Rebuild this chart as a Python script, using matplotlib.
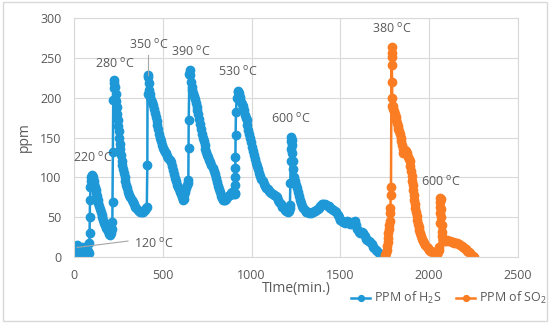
import matplotlib
matplotlib.use("Agg")
import matplotlib.pyplot as plt
from matplotlib.patches import Rectangle

plt.rcParams['font.family'] = ['Open Sans', 'DejaVu Sans']

# H2S readings (time in min, ppm)
h2s_time = [
    0, 4, 8, 12, 16, 20, 24, 28, 32, 36, 40, 44, 48, 52, 56, 60, 64, 68, 72, 76, 80, 84,
    87, 88, 89, 90, 93, 95, 98, 100, 103,
    106, 110, 114, 118, 122, 126, 130, 134, 138, 142, 146, 150, 155, 160, 165, 170, 175,
    180, 185, 190, 195, 200, 205, 210, 214,
    216, 217, 219, 221, 223, 225, 228,
    231, 234, 237, 240, 243, 246, 249, 252, 255, 258, 261, 264, 268, 272, 276, 280, 285,
    290, 295, 300, 306, 312, 318, 324, 330, 337, 344, 351, 358, 366, 374, 382, 390, 398,
    405, 410,
    413, 414, 416, 418, 420, 422,
    426, 430, 435, 440, 445, 450, 455, 460, 465, 470, 475, 480, 485, 490, 496, 502, 508,
    514, 520, 526, 532, 538, 544, 550, 556, 562, 568, 574, 580, 586, 592, 598, 604, 609,
    614, 618, 622, 627, 632, 637, 641,
    644, 645, 646, 650, 653, 656,
    659, 662, 666, 670, 675, 680, 685, 690, 695, 700, 705, 710, 715, 720, 725, 730, 735,
    740, 745, 750, 756, 762, 768, 774, 780, 786, 792, 798, 804, 810, 816, 822, 828, 834,
    840, 846, 852, 858, 864, 870, 876, 882, 888, 894, 900, 905,
    907, 907, 908, 908, 909, 910, 912, 916, 921, 925, 928,
    932, 937, 942, 947, 952, 957, 962, 967, 972, 977, 982, 987, 992, 997, 1002, 1007,
    1012, 1018, 1024, 1030, 1036, 1042, 1048, 1055, 1062, 1069, 1076, 1083, 1090, 1097,
    1104, 1112, 1120, 1128, 1136, 1143, 1150, 1157, 1164, 1172, 1180, 1188, 1196, 1204,
    1210, 1214,
    1216, 1218, 1220, 1221, 1222, 1223, 1225, 1227,
    1229, 1232, 1235, 1239, 1243, 1248, 1254, 1260, 1266, 1272, 1278, 1285, 1292, 1300,
    1308, 1316, 1324, 1332, 1340, 1348, 1356, 1364, 1372, 1380, 1388, 1396, 1404, 1412,
    1420, 1428, 1436, 1444, 1452, 1460, 1468, 1476, 1484, 1492, 1500, 1508, 1516, 1524,
    1532, 1540, 1548, 1556, 1564, 1572, 1580, 1588, 1596, 1604, 1612, 1620, 1628, 1636,
    1644, 1652, 1660, 1668, 1676, 1684, 1692, 1700, 1708, 1716, 1724, 1732, 1740, 1748,
]
h2s_ppm = [
    2, 6, 10, 14, 15, 12, 9, 6, 8, 11, 13, 11, 8, 10, 12, 9, 6, 3, 1, 4, 8, 5,
    17, 30, 50, 71, 88, 96, 101, 103, 102,
    100, 96, 92, 88, 84, 80, 76, 72, 68, 64, 60, 57, 53, 50, 46, 43, 40,
    37, 35, 33, 31, 29, 28, 30, 35,
    44, 69, 132, 197, 212, 218, 222,
    214, 205, 196, 188, 180, 172, 165, 158, 150, 142, 135, 128, 121, 115, 110, 105, 100,
    95, 90, 86, 82, 78, 75, 72, 69, 66, 63, 61, 59, 58, 57, 56, 57, 59,
    61, 63,
    115, 205, 228, 226, 218, 210,
    205, 201, 197, 194, 191, 186, 181, 176, 171, 166, 161, 155, 150, 145, 141, 137, 134,
    132, 130, 127, 124, 122, 119, 114, 109, 104, 99, 95, 91, 88, 85, 82, 79, 75,
    71, 73, 78, 82, 86, 90, 93,
    97, 137, 172, 230, 235, 228,
    220, 214, 210, 206, 202, 198, 193, 188, 184, 179, 173, 167, 161, 155, 150, 145, 140,
    136, 132, 128, 125, 122, 119, 116, 112, 108, 104, 99, 94, 89, 85, 81, 77, 74,
    72, 71, 71, 73, 75, 77, 78, 80, 81, 80, 79, 79,
    80, 90, 101, 112, 126, 153, 182, 200, 207, 209, 206,
    201, 197, 194, 192, 189, 184, 178, 175, 172, 166, 160, 155, 150, 144, 138, 133,
    128, 123, 118, 114, 110, 106, 102, 98, 95, 92, 89, 87, 85, 83,
    82, 80, 79, 78, 77, 75, 72, 69, 66, 63, 61, 59, 58, 57,
    58, 62,
    65, 93, 120, 135, 145, 151, 147, 140,
    130, 120, 110, 101, 95, 90, 86, 82, 77, 72, 68, 64, 61, 59,
    57, 56, 55, 55, 56, 57, 58, 59, 60, 62, 64, 66, 67, 66,
    65, 64, 64, 62, 60, 59, 58, 56, 53, 50, 47, 45, 44, 43,
    44, 45, 44, 42, 41, 44, 45, 40, 35, 31, 30, 32, 30, 26,
    23, 21, 20, 19, 16, 13, 11, 9, 7, 5, 4, 2, 1, 0,
]

# SO2 readings (time in min, ppm)
so2_time = [
    1751, 1754, 1757, 1760, 1763, 1766, 1768, 1770, 1772, 1775, 1778, 1780, 1782, 1783, 1785,
    1788, 1789, 1789, 1790, 1791, 1792, 1793,
    1796, 1799, 1803, 1807, 1811, 1815, 1819, 1823, 1827, 1831, 1835, 1839, 1843, 1847,
    1851, 1855, 1860, 1865, 1870, 1875, 1880, 1885, 1890, 1894, 1898, 1901, 1904, 1907,
    1910, 1913, 1916, 1919, 1922, 1925, 1929, 1933, 1937, 1941, 1945, 1950, 1955, 1960,
    1966, 1972, 1978, 1985, 1992, 1999, 2006, 2013, 2020, 2027, 2034, 2040, 2046, 2051,
    2055, 2058,
    2060, 2061, 2061, 2062, 2063, 2064, 2066, 2068, 2070, 2072, 2074, 2077,
    2082, 2088, 2095, 2102, 2110, 2118, 2126, 2134, 2142, 2150, 2158, 2166, 2174, 2182,
    2190, 2198, 2206, 2214, 2222, 2230, 2238, 2246, 2252,
]
so2_ppm = [
    0, 2, 5, 9, 14, 19, 24, 30, 35, 40, 45, 55, 62, 78, 88,
    264, 256, 251, 241, 220, 200, 189,
    190, 186, 183, 180, 176, 172, 168, 164, 161, 158, 155, 150, 145, 140,
    135, 131, 133, 134, 133, 130, 126, 123, 120, 114, 108, 102, 96, 90,
    84, 78, 72, 66, 61, 56, 51, 46, 42, 38, 34, 30, 26, 23,
    20, 17, 15, 13, 11, 9, 8, 7, 6, 5, 4, 3, 4, 6,
    9, 12,
    43, 55, 63, 69, 74, 73, 60, 50, 40, 32, 26, 22,
    21, 20, 20, 21, 20, 20, 19, 19, 18, 18, 17, 16, 15, 14,
    13, 11, 10, 8, 6, 5, 3, 1, 0,
]

# temperature labels: text, time, ppm
temp_labels = ["220", "280", "390", "530", "600", "380", "600"]
temp_x = [104, 231, 656, 923, 1223, 1790, 2064]
temp_y = [125, 243, 257, 232, 173, 286, 94]

gray = '#595959'
blue = '#1e98d7'
orange = '#fb7d23'
deg = r' $^{\mathregular{o}}$C'

fig = plt.figure(figsize=(5.5, 3.24), dpi=100)
ax = fig.add_axes([0.1345, 0.2068, 0.8073, 0.7376])

ax.plot(h2s_time, h2s_ppm, '-o', color=blue, lw=1.8, ms=6, label=r'PPM of H$_\mathregular{2}$S')
ax.plot(so2_time, so2_ppm, '-o', color=orange, lw=1.8, ms=6, label=r'PPM of SO$_\mathregular{2}$')

for txt, x, y in zip(temp_labels, temp_x, temp_y):
    ax.text(x, y, txt + deg, ha='center', va='center', fontsize=9, color=gray)

# labels with leader lines
ax.text(422, 266, '350' + deg, ha='center', va='center', fontsize=9, color=gray)
ax.plot([418, 418], [253, 229], color='#a6a6a6', lw=0.8)
ax.text(338, 17, '120' + deg, ha='left', va='center', fontsize=9, color=gray)
ax.plot([17, 304], [12, 20], color='#a6a6a6', lw=0.8)

ax.set_xlim(0, 2500)
ax.set_ylim(0, 300)
ax.set_xticks(range(0, 2501, 500))
ax.set_yticks(range(0, 301, 50))
ax.grid(True, color='#d9d9d9', lw=0.8)
ax.set_axisbelow(True)
for s in ax.spines.values():
    s.set_color('#d9d9d9')
    s.set_linewidth(0.8)
ax.tick_params(length=0, labelsize=9, labelcolor=gray, pad=9)

ax.set_ylabel('ppm', fontsize=10, color=gray, labelpad=6)
fig.text(0.538, 0.111, 'TIme(min.)', ha='center', va='center', fontsize=10, color=gray)

ax.legend(loc='center', bbox_to_anchor=(0.816, 0.08), bbox_transform=fig.transFigure,
          ncol=2, frameon=False, fontsize=9, labelcolor=gray, handlelength=1.5,
          handletextpad=0.3, columnspacing=1.2, markerscale=0.7)

fig.add_artist(Rectangle((0.005, 0.008), 0.989, 0.985, transform=fig.transFigure,
                         fill=False, ec='#d9d9d9', lw=1))

plt.savefig('out.png', dpi=100)
